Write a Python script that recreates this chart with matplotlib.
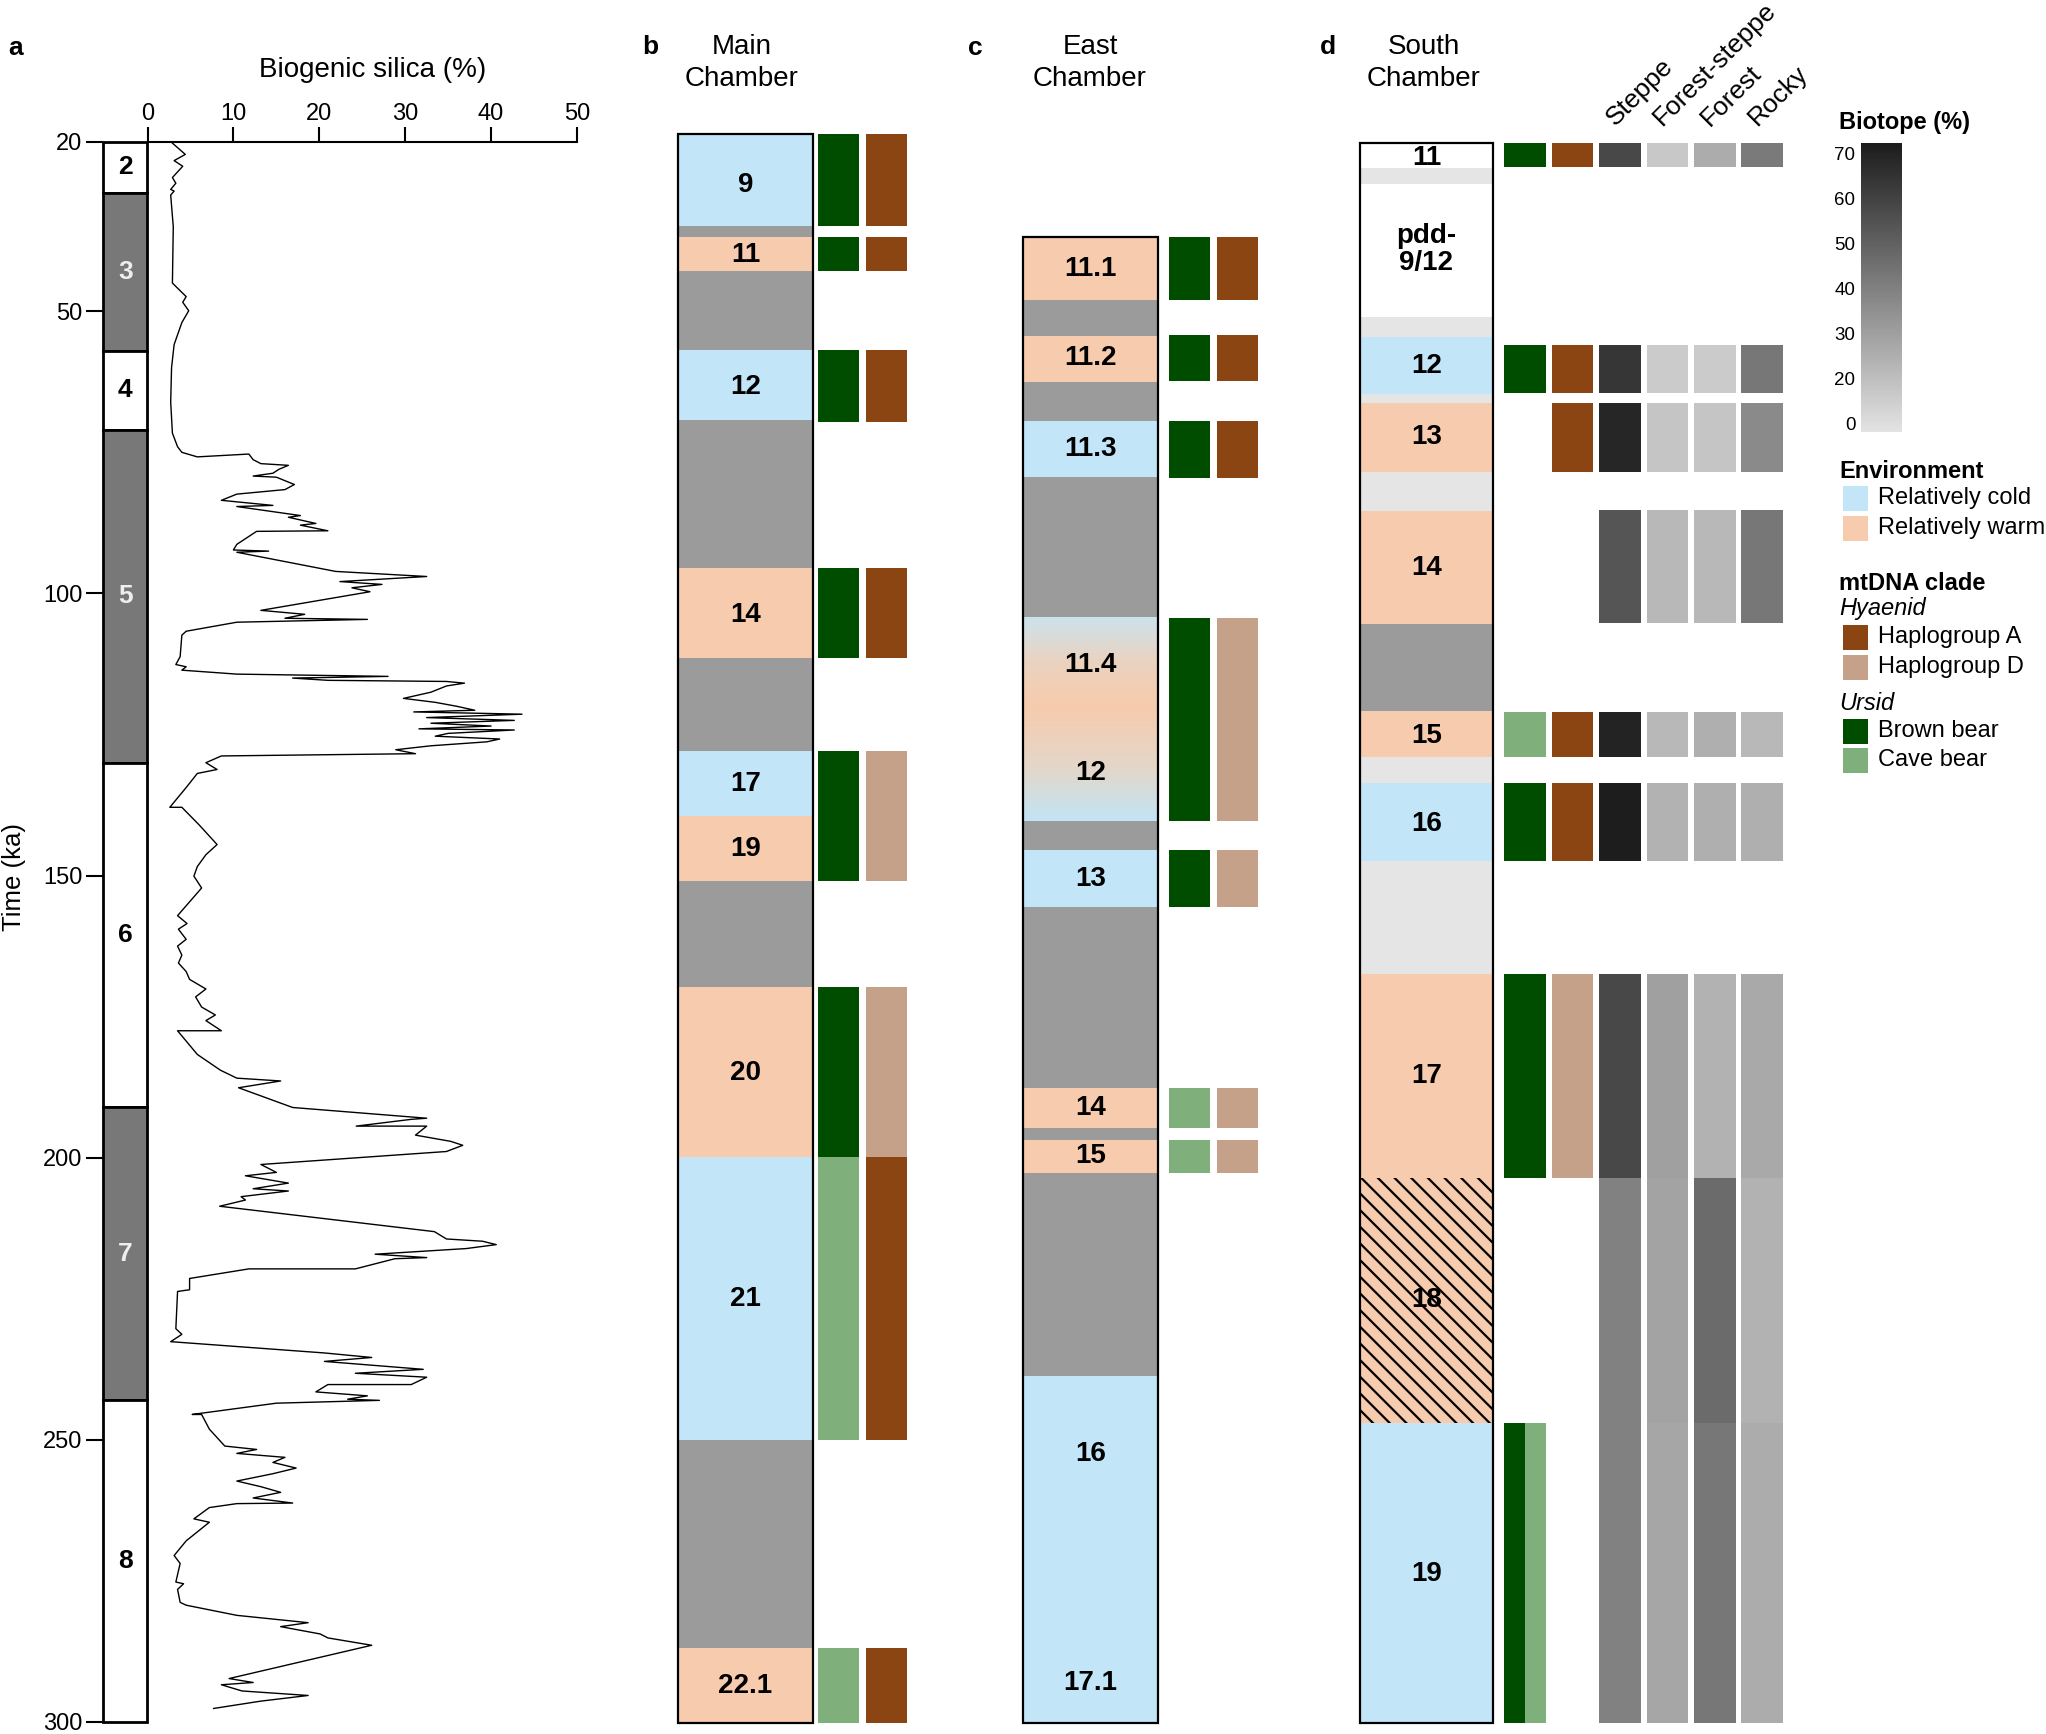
# Stratigraphy figure: MIS / biogenic silica record plus three cave chamber sections
import matplotlib

matplotlib.use("Agg")
import matplotlib.pyplot as plt
import numpy as np
from matplotlib.cm import ScalarMappable
from matplotlib.colors import LinearSegmentedColormap, Normalize
from matplotlib.patches import Rectangle

plt.rcParams["font.family"] = ["Liberation Sans", "DejaVu Sans"]
plt.rcParams["hatch.linewidth"] = 1.6

# ---------------- data ----------------
# panel a: marine isotope stages (ka)
mis_labels = ["2", "3", "4", "5", "6", "7", "8"]
mis_top = [20, 29, 57, 71, 130, 191, 243]
mis_bottom = [29, 57, 71, 130, 191, 243, 300]
time_ticks = [20, 50, 100, 150, 200, 250, 300]

# biogenic silica record (age ka, %)
silica_age = [
    20.2, 22.2, 23.3, 24.3, 26.3, 27.3, 28.4, 28.7, 29.4, 35.0, 45.0, 47.4, 48.4, 49.9, 52.0,
    55.9, 60.0, 66.1, 71.6, 74.0, 75.0, 75.8, 75.3, 76.3, 77.0, 77.3, 78.0, 78.7, 79.2, 79.4,
    80.7, 81.6, 82.4, 83.5, 84.4, 84.6, 86.2, 86.5, 87.6, 87.9, 88.9, 89.0, 91.3, 92.3, 92.5,
    92.7, 96.1, 97.0, 97.9, 98.4, 99.0, 99.7, 103.0, 103.7, 104.4, 104.6, 105.1, 106.7, 107.4,
    111.2, 112.6, 113.0, 113.6, 114.3, 114.7, 115.0, 115.4, 115.6, 115.9, 116.4, 117.5, 118.6,
    119.3, 120.0, 120.7, 121.0, 121.4, 122.0, 122.5, 123.0, 123.5, 124.0, 124.2, 124.8, 125.3,
    125.8, 126.3, 127.0, 127.7, 128.4, 128.8, 130.0, 131.2, 131.9, 134.4, 137.9, 137.9, 141.0,
    144.5, 146.3, 148.4, 150.1, 152.2, 155.0, 157.1, 158.5, 159.5, 161.3, 162.5, 164.1, 165.5,
    167.0, 168.4, 170.1, 171.5, 173.3, 174.7, 175.7, 177.5, 177.5, 181.7, 184.5, 185.9, 186.4,
    187.6, 191.1, 193.0, 193.2, 194.4, 194.4, 196.0, 197.1, 197.8, 198.9, 201.2, 202.6, 203.2,
    204.5, 205.5, 205.9, 206.9, 207.5, 208.6, 210.2, 213.1, 214.4, 214.8, 215.4, 216.1, 217.1,
    217.7, 217.9, 219.7, 219.7, 221.4, 223.4, 223.7, 230.3, 231.3, 232.6, 234.6, 235.4, 236.1,
    237.5, 238.2, 238.9, 240.2, 240.2, 241.5, 242.2, 242.8, 243.0, 243.5, 245.5, 245.5, 248.1,
    251.1, 251.7, 252.4, 253.1, 254.0, 255.0, 256.0, 257.3, 258.3, 259.3, 260.3, 261.2, 261.3,
    262.0, 264.0, 264.6, 267.9, 270.5, 271.9, 275.2, 275.5, 276.5, 278.8, 279.3, 281.1, 282.4,
    283.1, 284.4, 285.1, 286.4, 292.3, 293.0, 293.4, 294.5, 295.3, 296.3, 297.6,
]
silica_pct = [
    2.9, 4.4, 3.1, 4.1, 2.9, 3.3, 2.7, 3.1, 2.7, 3.0, 2.9, 4.5, 4.1, 4.8, 4.0,
    3.1, 2.8, 2.7, 2.9, 3.5, 4.0, 5.8, 11.8, 12.3, 13.2, 16.4, 15.3, 14.6, 12.3, 15.0,
    17.1, 16.0, 10.4, 8.6, 14.6, 10.4, 17.8, 16.4, 19.6, 17.8, 21.0, 12.7, 10.4, 10.0, 14.1,
    10.4, 21.9, 32.5, 22.4, 27.3, 23.8, 25.9, 13.2, 18.3, 16.0, 25.6, 10.4, 4.5, 4.0,
    3.8, 3.3, 4.5, 4.0, 10.4, 28.0, 16.9, 21.0, 34.8, 36.9, 34.8, 33.0, 29.8,
    33.5, 36.0, 38.1, 31.0, 43.6, 32.5, 42.7, 33.0, 40.0, 31.6, 42.7, 35.0, 33.5,
    41.0, 39.5, 33.0, 28.9, 31.2, 8.6, 6.8, 8.1, 5.8, 4.5, 2.6, 4.0, 6.0,
    8.1, 6.8, 5.8, 5.4, 6.3, 4.7, 3.5, 4.6, 3.6, 4.5, 3.5, 4.0, 3.6,
    4.5, 4.9, 6.8, 5.6, 6.3, 7.9, 6.8, 8.6, 3.5, 5.8, 8.5, 10.4, 15.5,
    10.6, 16.9, 32.5, 30.7, 24.3, 32.5, 31.2, 35.3, 36.7, 34.8, 13.2, 15.0, 11.4,
    16.4, 12.3, 16.4, 10.9, 11.4, 8.4, 17.3, 33.4, 34.8, 39.0, 40.6, 37.1, 26.5,
    32.5, 28.8, 24.2, 11.8, 4.9, 4.9, 3.5, 3.3, 4.0, 2.7, 20.6, 26.1, 20.6,
    32.1, 24.2, 32.5, 30.7, 21.0, 19.6, 25.6, 23.3, 27.0, 15.0, 5.2, 6.3, 7.2,
    9.0, 12.7, 10.4, 16.0, 14.6, 17.3, 14.6, 10.4, 13.2, 15.5, 12.3, 16.9, 10.4,
    7.2, 5.4, 7.2, 4.5, 3.1, 3.8, 3.3, 4.2, 3.5, 3.8, 4.5, 10.4, 18.7,
    15.5, 20.1, 21.0, 26.1, 9.5, 12.3, 8.6, 11.0, 18.7, 13.2, 7.7,
]

# panel b: Main Chamber (relative depth, 0 = top of figure column, 100 = base)
main_top = [0, 5.8, 6.5, 8.6, 13.6, 18.0, 27.3, 33.0, 38.8, 42.9, 47.0, 53.7, 64.4, 82.2, 95.3]
main_bottom = main_top[1:] + [100]
main_env = ["cold", "gap", "warm", "gap", "cold", "gap", "warm", "gap", "cold", "warm",
            "gap", "warm", "cold", "gap", "warm"]
main_label_text = ["9", "11", "12", "14", "17", "19", "20", "21", "22.1"]
main_label_depth = [3.2, 7.6, 15.9, 30.3, 40.9, 45.0, 59.1, 73.3, 97.7]
main_sample_top = [0, 6.5, 13.6, 27.3, 38.8, 42.9, 53.7, 64.4, 95.3]
main_sample_bottom = [5.8, 8.6, 18.1, 33.0, 42.9, 47.0, 64.4, 82.2, 100]
main_ursid = ["brown", "brown", "brown", "brown", "brown", "brown", "brown", "cave", "cave"]
main_hyaenid = ["A", "A", "A", "A", "D", "D", "D", "A", "A"]

# panel c: East Chamber
east_top = [6.5, 10.45, 12.7, 15.6, 18.06, 21.57, 30.48, 43.26, 45.09, 48.66, 60.06, 62.58,
            63.28, 65.41, 78.16]
east_bottom = east_top[1:] + [100]
east_env = ["warm", "gap", "warm", "gap", "cold", "gap", "mixed", "gap", "cold", "gap", "warm",
            "gap", "warm", "gap", "cold"]
east_label_text = ["11.1", "11.2", "11.3", "11.4", "12", "13", "14", "15", "16", "17.1"]
east_label_depth = [8.5, 14.1, 19.8, 33.4, 40.2, 46.9, 61.3, 64.3, 83.1, 97.5]
east_sample_top = [6.5, 12.64, 18.06, 30.48, 45.09, 60.06, 63.28]
east_sample_bottom = [10.45, 15.53, 21.63, 43.26, 48.66, 62.58, 65.41]
east_ursid = ["brown", "brown", "brown", "brown", "brown", "cave", "cave"]
east_hyaenid = ["A", "A", "A", "D", "D", "D", "D"]

# panel d: South Chamber
south_top = [0.56, 2.13, 3.14, 11.52, 12.76, 16.36, 16.92, 21.28, 23.71, 30.85, 36.34, 39.21,
             40.84, 45.73, 52.89, 65.7, 81.1]
south_bottom = south_top[1:] + [100]
south_env = ["none", "light", "none", "light", "cold", "light", "warm", "light", "warm", "gap",
             "warm", "light", "cold", "light", "warm", "hatch", "cold"]
south_label_text = ["11", "pdd-\n9/12", "12", "13", "14", "15", "16", "17", "18", "19"]
south_label_depth = [1.5, 7.3, 14.6, 19.1, 27.3, 37.9, 43.4, 59.3, 73.4, 90.6]
south_row_top = [0.56, 13.25, 16.92, 23.66, 36.39, 40.84, 52.84, 65.7, 81.1]
south_row_bottom = [2.07, 16.29, 21.28, 30.8, 39.21, 45.78, 65.7, 81.1, 100]
south_ursid = ["brown", "brown", "", "", "cave", "brown", "brown", "", "brown+cave"]
south_hyaenid = ["A", "A", "A", "", "A", "A", "D", "", ""]
biotope_names = ["Steppe", "Forest-steppe", "Forest", "Rocky"]
steppe = [58, 64, 69, 54, 70, 72, 58, 40, 40]
forest_steppe = [17, 16, 18, 22, 22, 24, 30, 29, 28]
forest = [26, 16, 18, 22, 25, 25, 24, 47, 43]
rocky = [42, 43, 37, 43, 22, 25, 27, 24, 26]
cbar_ticks = [10, 20, 30, 40, 50, 60, 70]
cbar_ticklabels = ["0", "20", "30", "40", "50", "60", "70"]

# ---------------- styles ----------------
ENV_COLORS = {"cold": "#C2E6F8", "warm": "#F7CBAD", "gap": "#9B9B9B", "light": "#E5E5E5",
              "none": "#FFFFFF", "hatch": "#F7CBAD"}
URSID_COLORS = {"brown": "#004D00", "cave": "#7FB07C"}
HYAENID_COLORS = {"A": "#8B4513", "D": "#C5A18A"}
mixed_cmap = LinearSegmentedColormap.from_list(
    "mixed", [(0, "#CDE2EC"), (0.22, "#EAD3C0"), (0.43, "#F7CBAD"), (0.75, "#E3D7CB"), (1, "#C2E4F5")])
biotope_cmap = LinearSegmentedColormap.from_list("biotope", ["#E3E3E3", "#1C1C1C"])
biotope_norm = Normalize(8.2, 72.4)

W, H = 2046, 1734
fig = plt.figure(figsize=(W / 100, H / 100), dpi=100)


def px_rect(left, top, right, bottom):
    return [left / W, 1 - bottom / H, (right - left) / W, (bottom - top) / H]


def fig_text(x, y, s, **kw):
    kw.setdefault("ha", "center")
    kw.setdefault("va", "center")
    fig.text(x / W, 1 - y / H, s, **kw)


# ---------------- panel a ----------------
ax_mis = fig.add_axes(px_rect(103, 142, 147.5, 1722))
for lab, top, bot in zip(mis_labels, mis_top, mis_bottom):
    odd = int(lab) % 2 == 1
    ax_mis.add_patch(Rectangle((0, top), 1, bot - top, facecolor="#787878" if odd else "white",
                               edgecolor="black", lw=2, clip_on=False))
    ax_mis.text(0.5, (top + bot) / 2, lab, ha="center", va="center", fontsize=19,
                fontweight="bold", color="#EEEEEE" if odd else "black")
ax_mis.set_xlim(0, 1)
ax_mis.set_ylim(300, 20)
ax_mis.set_xticks([])
ax_mis.set_yticks(time_ticks)
for s in ax_mis.spines.values():
    s.set_visible(False)
ax_mis.tick_params(axis="y", length=12, width=1.5, labelsize=17, pad=3)

ax_si = fig.add_axes(px_rect(147.5, 142, 577, 1722))
ax_si.plot(silica_pct, silica_age, color="black", lw=1.0)
ax_si.set_xlim(0, 50)
ax_si.set_ylim(300, 20)
ax_si.xaxis.tick_top()
ax_si.set_xticks(range(0, 51, 10))
ax_si.set_yticks([])
for side in ("right", "bottom", "left"):
    ax_si.spines[side].set_visible(False)
ax_si.spines["top"].set_linewidth(1.5)
ax_si.tick_params(axis="x", length=11, width=1.5, labelsize=17, pad=1)
ax_si.patch.set_alpha(0)

fig_text(373, 70, "Biogenic silica (%)", fontsize=20)
fig_text(14, 877, "Time (ka)", fontsize=18.5, rotation=90)


# ---------------- panels b-d ----------------
def draw_core(ax, tops, bottoms, envs, col_w):
    for top, bot, env in zip(tops, bottoms, envs):
        if env == "mixed":
            ax.imshow(np.linspace(0, 1, 256).reshape(-1, 1), cmap=mixed_cmap, aspect="auto",
                      extent=(0, col_w, bot, top), origin="upper", zorder=1)
        elif env == "hatch":
            ax.add_patch(Rectangle((0, top), col_w, bot - top, facecolor=ENV_COLORS[env],
                                   edgecolor="black", lw=0, hatch="\\\\", zorder=1))
        else:
            ax.add_patch(Rectangle((0, top), col_w, bot - top, facecolor=ENV_COLORS[env],
                                   lw=0, zorder=1))
    ax.add_patch(Rectangle((0, tops[0]), col_w, bottoms[-1] - tops[0], fill=False,
                           edgecolor="black", lw=1.6, zorder=5, clip_on=False))


def draw_labels(ax, texts, depths, col_w):
    for txt, d in zip(texts, depths):
        ax.text(col_w / 2, d, txt, ha="center", va="center", fontsize=20, fontweight="bold",
                linespacing=1.05, zorder=6)


def draw_samples(ax, tops, bottoms, ursid, hyaenid, x_urs, x_hya, bar_w):
    for top, bot, u, h in zip(tops, bottoms, ursid, hyaenid):
        if u == "brown+cave":
            ax.add_patch(Rectangle((x_urs, top), bar_w / 2, bot - top,
                                   facecolor=URSID_COLORS["brown"], lw=0))
            ax.add_patch(Rectangle((x_urs + bar_w / 2, top), bar_w / 2, bot - top,
                                   facecolor=URSID_COLORS["cave"], lw=0))
        elif u:
            ax.add_patch(Rectangle((x_urs, top), bar_w, bot - top,
                                   facecolor=URSID_COLORS[u], lw=0))
        if h:
            ax.add_patch(Rectangle((x_hya, top), bar_w, bot - top,
                                   facecolor=HYAENID_COLORS[h], lw=0))


def finish(ax, span):
    ax.set_xlim(0, span)
    ax.set_ylim(100, 0)
    ax.axis("off")


# b: Main Chamber
ax_b = fig.add_axes(px_rect(678, 134, 908, 1723))
draw_core(ax_b, main_top, main_bottom, main_env, 135)
draw_labels(ax_b, main_label_text, main_label_depth, 135)
draw_samples(ax_b, main_sample_top, main_sample_bottom, main_ursid, main_hyaenid, 140, 188, 41)
finish(ax_b, 230)

# c: East Chamber
ax_c = fig.add_axes(px_rect(1023, 134, 1258, 1723))
draw_core(ax_c, east_top, east_bottom, east_env, 135)
draw_labels(ax_c, east_label_text, east_label_depth, 135)
draw_samples(ax_c, east_sample_top, east_sample_bottom, east_ursid, east_hyaenid, 146, 194, 41)
finish(ax_c, 235)

# d: South Chamber with biotope reconstruction
ax_d = fig.add_axes(px_rect(1360, 134, 1783, 1723))
draw_core(ax_d, south_top, south_bottom, south_env, 133)
draw_labels(ax_d, south_label_text, south_label_depth, 133)
draw_samples(ax_d, south_row_top, south_row_bottom, south_ursid, south_hyaenid, 144, 191.5, 41.5)
biotope_x0, biotope_step, biotope_w = 239.2, 47.4, 41.5
for j, (name, vals) in enumerate(zip(biotope_names, [steppe, forest_steppe, forest, rocky])):
    x = biotope_x0 + j * biotope_step
    for top, bot, v in zip(south_row_top, south_row_bottom, vals):
        ax_d.add_patch(Rectangle((x, top), biotope_w, bot - top,
                                 facecolor=biotope_cmap(biotope_norm(v)), lw=0))
    ax_d.text(x + biotope_w / 2 - 5, -0.45, name, rotation=45, rotation_mode="anchor",
              ha="left", va="baseline", fontsize=19)
finish(ax_d, 423)

# titles and panel letters
fig_text(742, 63, "Main\nChamber", fontsize=20, linespacing=1.3)
fig_text(1090, 63, "East\nChamber", fontsize=20, linespacing=1.3)
fig_text(1424, 63, "South\nChamber", fontsize=20, linespacing=1.3)
for letter, x, y in [("a", 16, 48), ("b", 650, 47), ("c", 975, 48), ("d", 1328, 47)]:
    fig_text(x, y, letter, fontsize=19, fontweight="bold")

# ---------------- legends ----------------
fig_text(1839, 122, "Biotope (%)", fontsize=17, fontweight="bold", ha="left")
cax = fig.add_axes(px_rect(1861, 143, 1902, 432))
cb = fig.colorbar(ScalarMappable(norm=biotope_norm, cmap=biotope_cmap), cax=cax)
cb.outline.set_visible(False)
cb.set_ticks(cbar_ticks)
cb.set_ticklabels(cbar_ticklabels)
cax.yaxis.set_ticks_position("left")
cax.tick_params(length=0, pad=4, labelsize=13.5)

ax_leg = fig.add_axes(px_rect(1835, 450, 2046, 800))
ax_leg.set_xlim(1835, 2046)
ax_leg.set_ylim(800, 450)
ax_leg.axis("off")
legend_items = [
    ("head", "Environment", None, 471),
    ("patch", "Relatively cold", ENV_COLORS["cold"], 498),
    ("patch", "Relatively warm", ENV_COLORS["warm"], 528),
    ("head", "mtDNA clade", None, 583),
    ("sub", "Hyaenid", None, 609),
    ("patch", "Haplogroup A", HYAENID_COLORS["A"], 637),
    ("patch", "Haplogroup D", HYAENID_COLORS["D"], 667),
    ("sub", "Ursid", None, 704),
    ("patch", "Brown bear", URSID_COLORS["brown"], 731),
    ("patch", "Cave bear", URSID_COLORS["cave"], 760),
]
for kind, label, color, y in legend_items:
    if kind == "head":
        ax_leg.text(1839, y, label, fontsize=17, fontweight="bold", ha="left", va="center")
    elif kind == "sub":
        ax_leg.text(1839, y, label, fontsize=17, style="italic", ha="left", va="center")
    else:
        ax_leg.add_patch(Rectangle((1843, y - 12.5), 25, 25, facecolor=color, lw=0))
        ax_leg.text(1878, y, label, fontsize=17, ha="left", va="center", clip_on=False)

fig.savefig("out.png", dpi=100)
